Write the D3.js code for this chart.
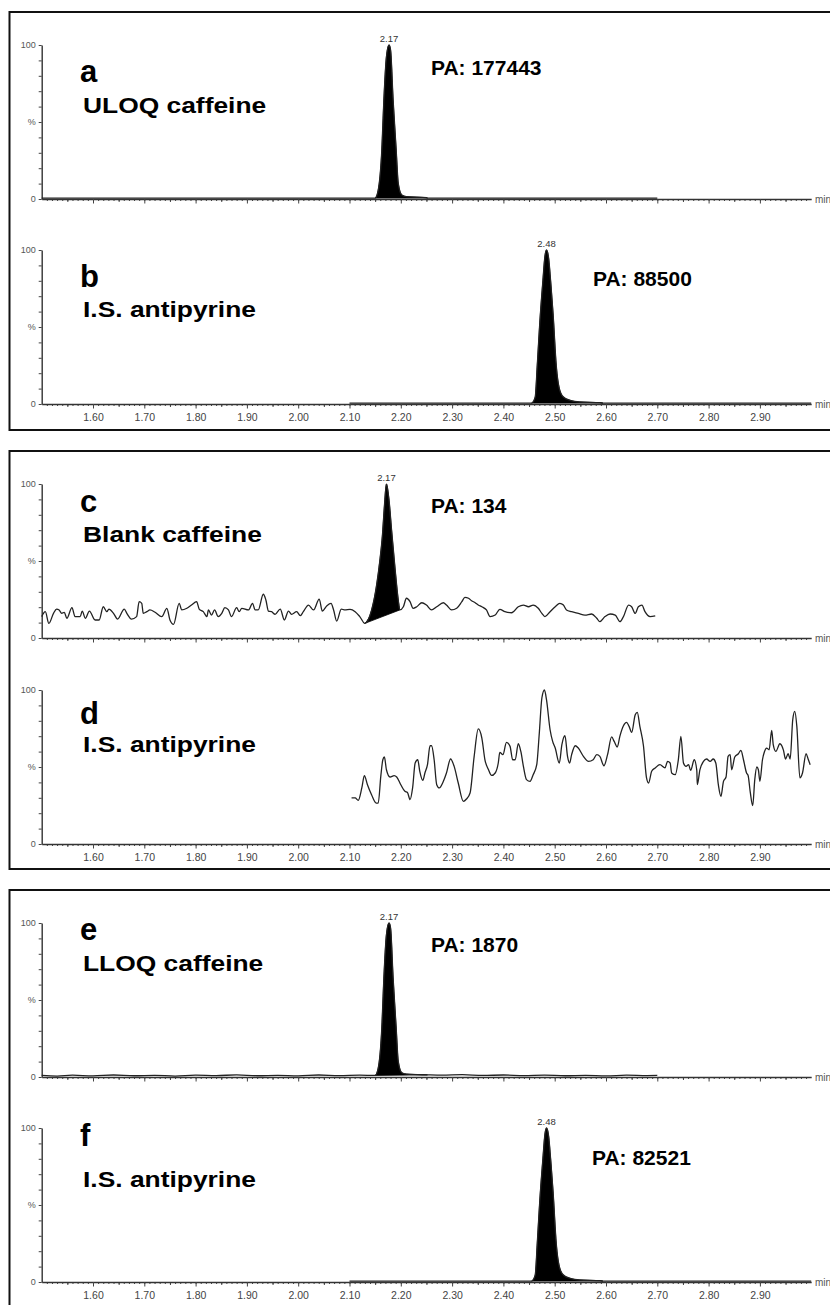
<!DOCTYPE html>
<html>
<head>
<meta charset="utf-8">
<script src="https://cdn.jsdelivr.net/npm/d3@7"></script>
<style>
  body { margin: 0; background: #fff; }
  svg { display: block; }
  text { font-family: "Liberation Sans", Arial, Helvetica, sans-serif; }
</style>
</head>
<body>
<svg id="chart" width="830" height="1305"></svg>
<script>

// tick labels on the time axis (min)
let xTickValues = [1.60, 1.70, 1.80, 1.90, 2.00, 2.10, 2.20, 2.30, 2.40, 2.50, 2.60, 2.70, 2.80, 2.90];

let panelLetters = ['a', 'b', 'c', 'd', 'e', 'f'];
let panelNames = ['ULOQ caffeine', 'I.S. antipyrine', 'Blank caffeine', 'I.S. antipyrine', 'LLOQ caffeine', 'I.S. antipyrine'];
let peakAreas = ['PA: 177443', 'PA: 88500', 'PA: 134', null, 'PA: 1870', 'PA: 82521'];
let apexLabels = ['2.17', '2.48', '2.17', null, '2.17', '2.48'];
let apexTimes = [2.177, 2.484, 2.172, null, 2.177, 2.484];
// integrated window of each peak [start, end]
let peakWindows = [[2.150, 2.252], [2.455, 2.594], [2.130, 2.198], null, [2.150, 2.252], [2.455, 2.594]];

// traces: [time (min), intensity (%)]
let traceA = [[1.50,0.6],[2.150,0.6],[2.156,5.8],[2.163,31.8],[2.167,64.3],[2.172,92.4],[2.177,100],[2.180,96.8],
  [2.185,64.3],[2.191,31.8],[2.195,10.2],[2.202,2.6],[2.211,1.5],[2.250,0.9],[2.252,0.6],[2.70,0.6]];

let traceB = [[2.10,0.6],[2.455,0.6],[2.462,4.5],[2.466,25],[2.471,53],[2.477,80],[2.481,96],[2.484,100],[2.488,95],
  [2.492,80],[2.497,57.6],[2.503,25],[2.509,10],[2.517,4.5],[2.530,2.4],[2.549,1.3],[2.588,0.9],[2.594,0.6],[3.0,0.6]];

let traceC = [[1.500,13.9],[1.507,17.1],[1.514,9.5],[1.523,16],[1.529,18.8],[1.534,18.2],[1.539,16],[1.544,16.7],[1.549,12.8],
  [1.559,19.7],[1.565,13.9],[1.575,13.9],[1.579,17.5],[1.585,12.8],[1.593,17.5],[1.604,11.7],[1.612,11.7],[1.620,20.3],
  [1.627,17.1],[1.631,18.8],[1.640,16],[1.648,12.3],[1.661,18.8],[1.666,16],[1.675,12.3],[1.685,13.9],[1.690,23.6],
  [1.695,22.5],[1.698,16],[1.705,17.1],[1.711,18.2],[1.721,16.7],[1.734,13.9],[1.744,19.3],[1.750,11.7],[1.757,8.9],
  [1.768,22.5],[1.773,18.2],[1.783,19.3],[1.792,21.4],[1.802,23.6],[1.807,18.8],[1.815,17.1],[1.822,13.9],[1.825,18.2],
  [1.831,14.9],[1.837,18.2],[1.844,13.9],[1.851,16],[1.857,19.7],[1.864,18.2],[1.870,13.9],[1.880,19.7],[1.885,17.1],
  [1.890,19.3],[1.903,18.2],[1.911,22.5],[1.916,18.2],[1.922,18.2],[1.932,28.4],[1.937,24.7],[1.942,17.5],[1.948,17.1],
  [1.955,15.4],[1.965,18.8],[1.973,11.7],[1.981,17.5],[1.987,15.4],[1.997,17.1],[2.004,14.5],[2.010,17.1],[2.020,21.4],
  [2.030,18.2],[2.041,25.3],[2.047,17.5],[2.056,21],[2.064,22.5],[2.069,18.2],[2.075,11],[2.084,18.8],[2.091,18.2],
  [2.101,18.6],[2.111,17.1],[2.120,13.9],[2.130,9.5],
  [2.143,18],[2.153,34.6],[2.159,49.8],[2.164,65.8],[2.168,85.3],[2.172,100],[2.177,89.6],[2.182,70.1],[2.189,44.2],
  [2.195,24.7],[2.198,18.2],
  [2.205,20.3],[2.211,25.8],[2.218,23.6],[2.224,19.3],[2.231,20.3],[2.241,22.9],[2.250,21.4],[2.260,18.2],[2.270,20.3],
  [2.283,22.9],[2.289,21.4],[2.299,18.2],[2.309,19.3],[2.319,23.6],[2.325,26.4],[2.332,25.8],[2.338,24.2],[2.345,22.9],
  [2.351,21.4],[2.358,20.3],[2.367,18.2],[2.374,13.9],[2.384,14.9],[2.393,18.6],[2.403,17.1],[2.416,16.4],[2.429,20.3],
  [2.439,21.4],[2.449,20.3],[2.458,21.4],[2.468,19.3],[2.475,16],[2.481,13.9],[2.491,17.1],[2.501,20.3],[2.510,22.5],
  [2.517,21.4],[2.523,18.2],[2.533,17.1],[2.546,16],[2.559,14.9],[2.572,15.6],[2.582,12.8],[2.588,10.6],[2.598,13.9],
  [2.608,15.6],[2.618,14.9],[2.627,10.6],[2.634,13.9],[2.644,21.4],[2.650,20.3],[2.657,16],[2.663,20.3],[2.670,21.4],
  [2.676,17.1],[2.686,13.9],[2.696,14.3]];

let traceD = [[2.104,29.9],[2.111,29.9],[2.117,28.3],[2.124,36.4],[2.129,44.4],[2.135,38.5],[2.143,32],[2.152,26.6],
  [2.156,26.6],[2.161,43.9],[2.165,54.7],[2.168,56.5],[2.172,48.2],[2.179,43.5],[2.187,44.4],[2.192,43.5],[2.200,38.5],
  [2.208,34.2],[2.213,33.5],[2.218,28.8],[2.223,36.4],[2.228,52.6],[2.233,54.7],[2.237,47.2],[2.243,41.3],[2.247,46.1],
  [2.252,51.5],[2.257,63.8],[2.260,63.8],[2.265,54.7],[2.270,38.5],[2.275,36.4],[2.283,40.7],[2.289,46.1],[2.297,55.2],
  [2.304,50.4],[2.312,39.6],[2.322,27.7],[2.328,29.2],[2.335,33.1],[2.343,56.9],[2.351,74.7],[2.358,68.8],[2.364,54.7],
  [2.371,48.2],[2.377,44.5],[2.384,46.1],[2.390,52.6],[2.393,59.5],[2.399,58],[2.406,66],[2.413,63.4],[2.418,54.7],
  [2.423,54.7],[2.429,65.1],[2.434,60.1],[2.439,50.4],[2.445,41.8],[2.452,40.7],[2.458,45],[2.465,51.5],[2.470,72.1],
  [2.475,94.8],[2.480,100],[2.484,93.7],[2.491,74.2],[2.496,66.6],[2.501,62.3],[2.509,52.6],[2.514,64.5],[2.520,70.3],
  [2.525,56.9],[2.529,52.6],[2.533,58],[2.540,63.8],[2.546,62.3],[2.556,56.9],[2.566,53.6],[2.575,54.7],[2.582,58],
  [2.588,56.9],[2.596,50.8],[2.603,58],[2.611,69.5],[2.616,66.6],[2.622,63],[2.627,69.9],[2.634,76.8],[2.640,79],
  [2.645,76.4],[2.650,72.5],[2.657,84],[2.661,85.5],[2.666,76.4],[2.673,63.8],[2.679,42.9],[2.683,39.6],[2.689,47.2],
  [2.696,49.4],[2.705,51.5],[2.715,49.4],[2.720,53.6],[2.725,52.6],[2.728,46.1],[2.735,45],[2.741,54.7],[2.746,69.9],
  [2.751,52.6],[2.756,50.4],[2.761,51.5],[2.765,47.8],[2.772,54.7],[2.777,47.8],[2.778,38.5],[2.783,48.2],[2.790,53.6],
  [2.796,55.2],[2.803,53.6],[2.809,55.2],[2.814,52.6],[2.819,38.5],[2.824,30.9],[2.829,40.7],[2.834,43.5],[2.838,56.9],
  [2.842,58],[2.845,48.2],[2.851,56.5],[2.858,58.6],[2.863,60.8],[2.868,54.7],[2.874,46.1],[2.877,44.5],[2.881,34.2],
  [2.886,24.9],[2.890,41.8],[2.894,50],[2.897,48.2],[2.900,40.7],[2.905,54.7],[2.909,60.1],[2.913,62.3],[2.918,61.2],
  [2.923,73.8],[2.926,64.5],[2.931,60.1],[2.939,65.1],[2.946,60.8],[2.950,55.2],[2.955,58.6],[2.959,55.2],[2.964,80.7],
  [2.968,86.1],[2.972,76.4],[2.978,42.9],[2.983,46.1],[2.990,58.6],[2.994,55.2],[2.998,51.5]];

let traceE = [[1.50,1.0],[1.53,0.6],[1.56,1.2],[1.60,0.7],[1.64,1.3],[1.68,0.8],[1.72,1.1],[1.76,0.6],[1.80,1.2],[1.84,0.9],
  [1.88,1.4],[1.92,0.8],[1.96,1.1],[2.00,0.7],[2.04,1.3],[2.08,0.9],[2.12,1.2],[2.150,1.0],[2.156,5.8],[2.163,31.8],
  [2.167,64.3],[2.172,92.4],[2.177,100],[2.180,96.8],[2.185,64.3],[2.191,31.8],[2.195,10.2],[2.202,2.8],[2.211,1.9],
  [2.252,1.4],[2.28,1.2],[2.32,1.5],[2.36,1.0],[2.40,1.3],[2.44,0.9],[2.48,1.2],[2.52,0.8],[2.56,1.1],[2.60,0.7],
  [2.64,1.2],[2.68,0.9],[2.70,1.0]];

let traceF = [[2.10,0.6],[2.455,0.6],[2.462,4.5],[2.466,25],[2.471,53],[2.477,80],[2.481,96],[2.484,100],[2.488,95],
  [2.492,80],[2.497,57.6],[2.503,25],[2.509,10],[2.517,4.5],[2.530,2.4],[2.549,1.3],[2.588,0.9],[2.594,0.6],[3.0,0.6]];

let traces = [traceA, traceB, traceC, traceD, traceE, traceF];

// layout
let panelTops = [45, 250, 484, 690, 923, 1128];   // y of the 100 % line
let panelH = 154;
let boxes = [[12, 430], [451, 869], [890, 1320]];
let letterPos = [[80, 82], [80, 287], [80, 512], [80, 724], [80, 940], [80, 1146]];
let namePos = [[83, 113], [83, 317], [83, 542], [83, 752], [83, 971], [83, 1187]];
let paPos = [[431, 75], [593, 286], [431, 513], null, [431, 952], [592, 1165]];
let showTickLabels = [false, true, false, true, false, true];

let svg = d3.select('#chart');

let x = d3.scaleLinear()
    .domain([1.5, 3.0])
    .range([41.7, 811.2]);

// frames round each pair of panels
svg.append('g').selectAll('rect')
  .data(boxes)
  .enter().append('rect')
    .attr('x', 9.5)
    .attr('y', function(d){ return d[0]; })
    .attr('width', 840)
    .attr('height', function(d){ return d[1] - d[0]; })
    .attr('fill', 'none')
    .attr('stroke', '#111')
    .attr('stroke-width', 2);

let minorTicks = d3.range(151, 300).map(function(i){ return i / 100; });
let midTicks = d3.range(155, 300, 10).map(function(i){ return i / 100; });

panelTops.forEach(function(top, i){
  let y = d3.scaleLinear().domain([0, 100]).range([top + panelH, top]);
  let g = svg.append('g').attr('class', 'panel');

  // time axis
  let gx = g.append('g').attr('transform', 'translate(0,' + y(0) + ')');
  gx.append('g')
      .call(d3.axisBottom(x).tickValues(minorTicks).tickSize(2).tickFormat(''))
      .call(function(s){ s.select('.domain').remove(); });
  gx.append('g')
      .call(d3.axisBottom(x).tickValues(midTicks).tickSize(3).tickFormat(''))
      .call(function(s){ s.select('.domain').remove(); });
  let major = gx.append('g')
      .call(d3.axisBottom(x).tickValues(xTickValues).tickSize(4.5).tickSizeOuter(0)
        .tickFormat(showTickLabels[i] ? d3.format('.2f') : ''));
  major.select('.domain').attr('stroke', '#333').attr('stroke-width', 1.6);
  major.selectAll('text').attr('font-size', 10.5).attr('fill', '#444').attr('dy', '0.9em')
      .attr('font-family', '"Liberation Sans", Arial, sans-serif');
  gx.selectAll('.tick line').attr('stroke', '#444');
  gx.append('text')
      .attr('x', 815).attr('y', 4)
      .attr('font-size', 10).attr('fill', '#555')
      .text('min');

  // intensity axis
  let gy = g.append('g').attr('transform', 'translate(' + x(1.5) + ',0)');
  gy.call(d3.axisLeft(y).tickValues(d3.range(0, 101, 10)).tickSize(3).tickSizeOuter(0)
      .tickFormat(function(v){ return v === 100 ? '100' : v === 50 ? '%' : v === 0 ? '0' : ''; }));
  gy.select('.domain').attr('stroke', '#333').attr('stroke-width', 1.4);
  gy.selectAll('.tick line').attr('stroke', '#444');
  gy.selectAll('text').attr('font-size', 9).attr('fill', '#555')
      .attr('font-family', '"Liberation Sans", Arial, sans-serif');

  let data = traces[i];
  let line = d3.line()
      .x(function(d){ return x(d[0]); })
      .y(function(d){ return y(d[1]); })
      .curve(d3.curveMonotoneX);

  // integrated peak: trace down to the straight chord between start and end
  if (peakWindows[i]) {
    let w = peakWindows[i];
    let pts = data.filter(function(d){ return d[0] >= w[0] - 1e-9 && d[0] <= w[1] + 1e-9; });
    let p = line(pts);
    let first = pts[0];
    g.append('path')
        .attr('d', p + 'L' + x(first[0]) + ',' + y(first[1]) + 'Z')
        .attr('fill', '#000')
        .attr('stroke', '#000')
        .attr('stroke-width', 0.8);
  }

  g.append('path')
      .datum(data)
      .attr('d', line)
      .attr('fill', 'none')
      .attr('stroke', '#222')
      .attr('stroke-width', 1.3);

  if (apexLabels[i]) {
    g.append('text')
        .attr('x', x(apexTimes[i]))
        .attr('y', y(100) - 3)
        .attr('text-anchor', 'middle')
        .attr('font-size', 9.5)
        .attr('fill', '#333')
        .text(apexLabels[i]);
  }

  g.append('text')
      .attr('x', letterPos[i][0]).attr('y', letterPos[i][1])
      .attr('font-size', 31).attr('font-weight', 'bold')
      .text(panelLetters[i]);

  g.append('text')
      .attr('transform', 'translate(' + namePos[i][0] + ',' + namePos[i][1] + ') scale(1.2,1)')
      .attr('font-size', 22).attr('font-weight', 'bold')
      .text(panelNames[i]);

  if (peakAreas[i]) {
    g.append('text')
        .attr('x', paPos[i][0]).attr('y', paPos[i][1])
        .attr('font-size', 21).attr('font-weight', 'bold')
        .text(peakAreas[i]);
  }
});

</script>
</body>
</html>
